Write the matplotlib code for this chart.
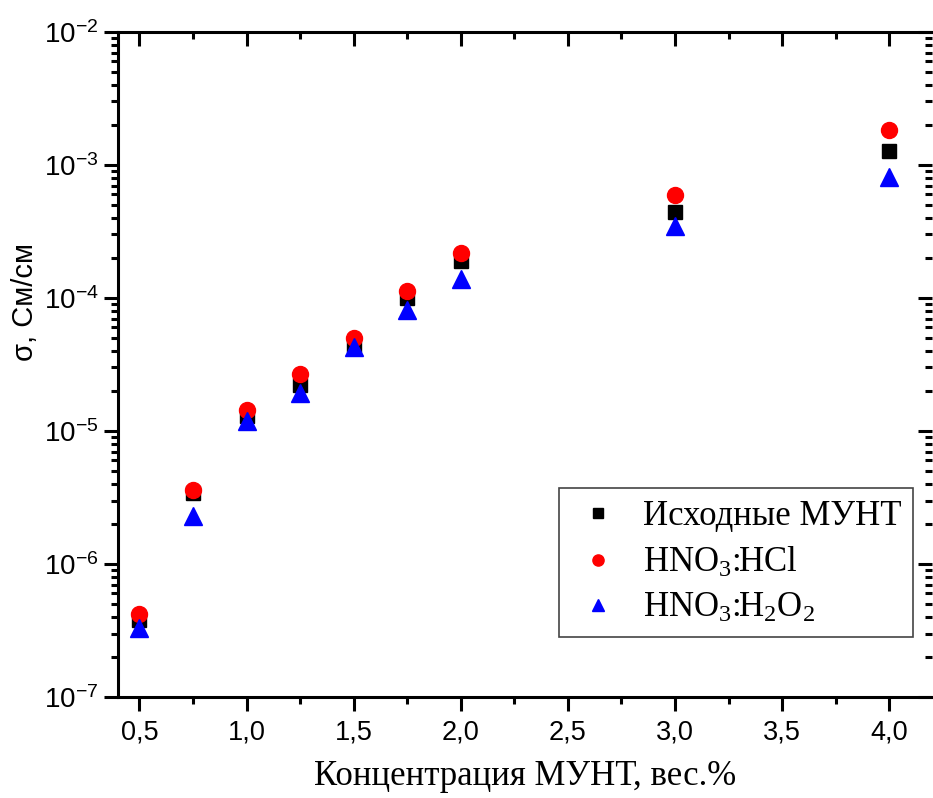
import numpy as np
import matplotlib
matplotlib.use("Agg")
import matplotlib.pyplot as plt
from matplotlib.ticker import FixedLocator, LogLocator, FuncFormatter, NullFormatter

plt.rcParams['mathtext.fontset'] = 'custom'
plt.rcParams['mathtext.rm'] = 'Liberation Serif'
plt.rcParams['mathtext.sf'] = 'Liberation Sans'
plt.rcParams['mathtext.default'] = 'rm'

# концентрация МУНТ, вес.%
conc = [0.5, 0.75, 1.0, 1.25, 1.5, 1.75, 2.0, 3.0, 4.0]
# проводимость, См/см
sigma_raw = [3.8e-7, 3.4e-6, 1.3e-5, 2.2e-5, 4.4e-5, 1.0e-4, 1.9e-4, 4.4e-4, 1.27e-3]
sigma_hcl = [4.2e-7, 3.6e-6, 1.44e-5, 2.7e-5, 5.0e-5, 1.13e-4, 2.18e-4, 5.9e-4, 1.83e-3]
sigma_h2o2 = [3.3e-7, 2.3e-6, 1.19e-5, 1.93e-5, 4.3e-5, 8.1e-5, 1.4e-4, 3.5e-4, 8.1e-4]

labels = ['Исходные МУНТ', 'HNO$_3$:HCl', 'HNO$_3$:H$_2$O$_2$']
xticks = [0.5, 1.0, 1.5, 2.0, 2.5, 3.0, 3.5, 4.0]

fig = plt.figure(figsize=(9.33, 7.98), dpi=100)
ax = fig.add_axes([0.1265, 0.1266, 0.8725, 0.8334])

ax.plot(conc, sigma_raw, 's', color='black', ms=10, label=labels[0], zorder=3)
ax.plot(conc, sigma_hcl, 'o', color='red', ms=11.5, mec='red', label=labels[1], zorder=4)
ax.plot(conc, sigma_h2o2, '^', color='blue', ms=13, mec='blue', label=labels[2], zorder=5)

ax.set_yscale('log')
ax.set_xlim(0.4, 4.2)
ax.set_ylim(1e-7, 1e-2)

ax.xaxis.set_major_locator(FixedLocator(xticks))
ax.xaxis.set_minor_locator(FixedLocator(np.arange(0.75, 4.2, 0.5)))
ax.xaxis.set_major_formatter(FuncFormatter(lambda v, p: ('%.1f' % v).replace('.', ',')))
ax.yaxis.set_major_locator(LogLocator(base=10, numticks=10))
ax.yaxis.set_minor_locator(LogLocator(base=10, subs=np.arange(2, 10), numticks=20))
ax.yaxis.set_minor_formatter(NullFormatter())
ax.yaxis.set_major_formatter(FuncFormatter(
    lambda v, p: r'$\mathsf{10^{%d}}$' % int(round(np.log10(v)))))

for s in ['left', 'bottom', 'top']:
    ax.spines[s].set_linewidth(2.2)
ax.spines['right'].set_visible(False)

ax.tick_params(which='both', left=True, bottom=True, top=True, right=True, width=2.2)
ax.tick_params(axis='x', which='major', direction='out', length=10, labelsize=19.5, pad=6)
ax.tick_params(axis='x', which='minor', direction='out', length=5)
ax.tick_params(axis='y', which='major', direction='out', length=10, labelsize=20, pad=4)
ax.tick_params(axis='y', which='minor', direction='out', length=5)
for t in ax.xaxis.get_major_ticks() + ax.xaxis.get_minor_ticks():
    t.tick2line.set_marker(3)  # внутрь сверху
for t in ax.yaxis.get_major_ticks() + ax.yaxis.get_minor_ticks():
    t.tick2line.set_marker(0)
for lab in ax.get_xticklabels() + ax.get_yticklabels():
    lab.set_family('Liberation Sans')

ax.set_xlabel('Концентрация МУНТ, вес.%', family='Liberation Serif', fontsize=25, labelpad=11)
ax.set_ylabel('σ, См/см', family='Liberation Sans', fontsize=21)
ax.yaxis.set_label_coords(-0.097, 0.594)

leg = ax.legend(loc='lower right', bbox_to_anchor=(0.977, 0.09),
                prop={'family': 'Liberation Serif', 'size': 25},
                markerscale=0.7, fancybox=False, edgecolor='#444444', framealpha=1,
                handlelength=1.5, handletextpad=0.55, borderpad=0.35,
                labelspacing=0.35, borderaxespad=0)
leg.get_frame().set_linewidth(1.2)

fig.savefig('out.png', dpi=100)
